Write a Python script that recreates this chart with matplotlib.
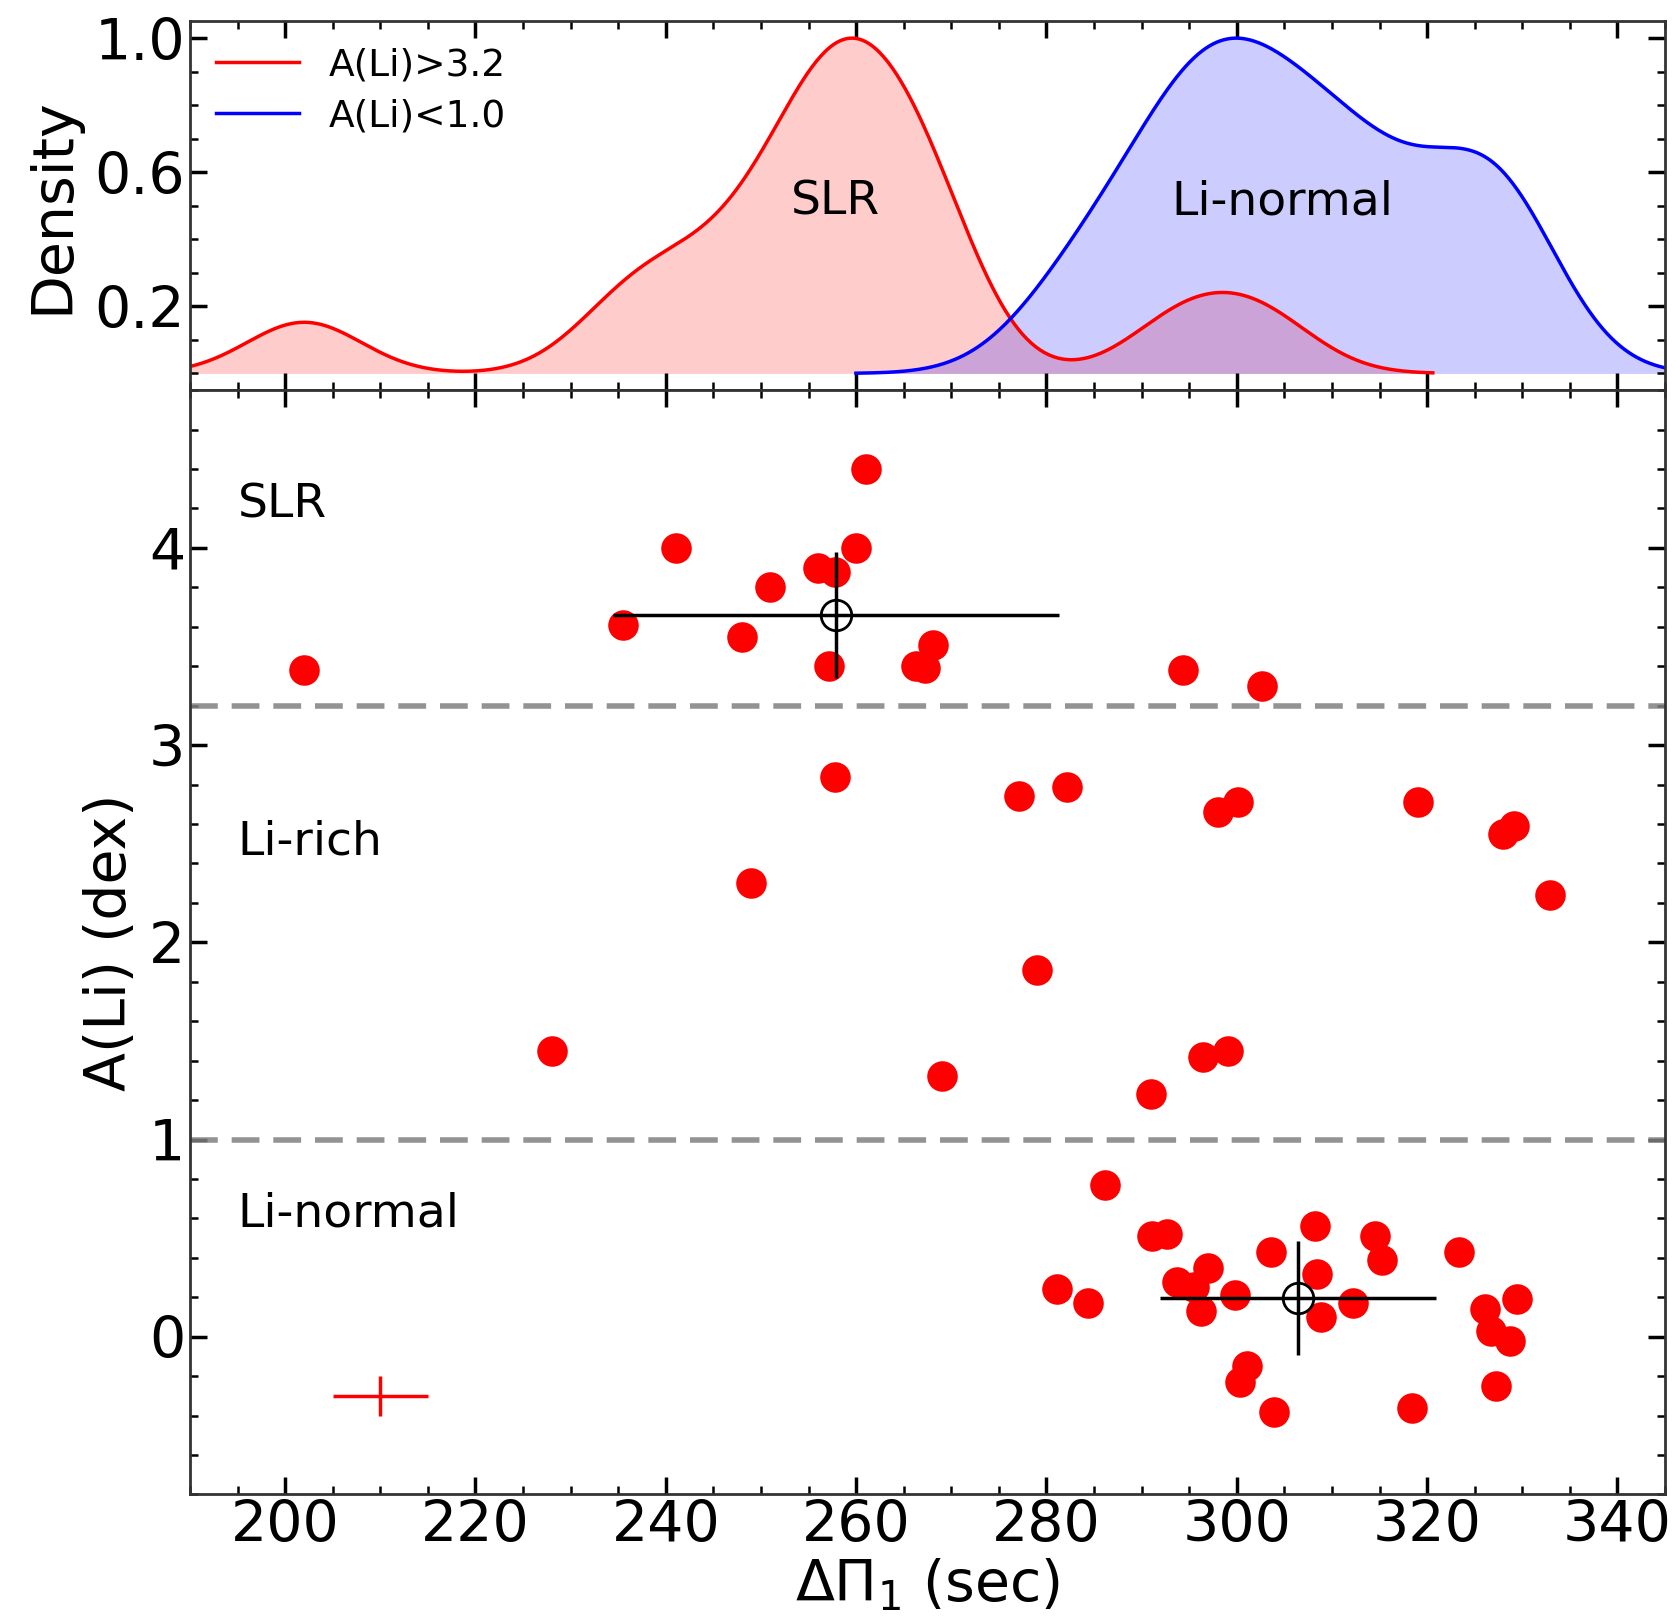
import numpy as np
import matplotlib
matplotlib.use("Agg")
import matplotlib.pyplot as plt
from matplotlib.ticker import MultipleLocator, FixedLocator

# A(Li) > 3.2 (SLR)
slr_x = [202.0, 235.5, 241.1, 248.0, 251.0, 256.0, 257.8, 260.0, 261.0, 257.2,
         266.3, 267.2, 268.1, 294.4, 302.6]
slr_y = [3.38, 3.61, 4.00, 3.55, 3.80, 3.90, 3.88, 4.00, 4.40, 3.40,
         3.40, 3.39, 3.51, 3.38, 3.30]

# 1.0 < A(Li) < 3.2 (Li-rich)
rich_x = [257.8, 249.0, 228.0, 269.0, 277.1, 282.2, 279.0, 291.0, 296.4, 299.1,
          298.0, 300.1, 319.0, 328.0, 329.1, 332.9]
rich_y = [2.84, 2.30, 1.45, 1.32, 2.74, 2.79, 1.86, 1.23, 1.42, 1.45,
          2.66, 2.71, 2.71, 2.55, 2.59, 2.24]

# A(Li) < 1.0 (Li-normal)
norm_x = [286.1, 281.1, 284.4, 291.1, 292.7, 293.7, 297.0, 295.5, 296.2, 299.8,
          303.6, 308.2, 308.4, 308.9, 312.2, 314.5, 315.3, 323.3, 326.1, 326.7,
          328.7, 329.4, 327.2, 301.1, 300.3, 303.9, 318.4]
norm_y = [0.77, 0.24, 0.17, 0.51, 0.52, 0.28, 0.35, 0.25, 0.13, 0.21,
          0.43, 0.56, 0.32, 0.10, 0.17, 0.51, 0.39, 0.43, 0.14, 0.03,
          -0.02, 0.19, -0.25, -0.15, -0.23, -0.38, -0.36]

# typical error
err_x, err_y = 210.0, -0.30
err_dx, err_dy = 5.0, 0.10

# kde bandwidths (sec) and cut (in bandwidths)
bw_slr, cut_slr = 6.0, 3.0
bw_norm, cut_norm = 6.6, 3.2


def kde(data, bw, cut=3):
    d = np.asarray(data)
    grid = np.linspace(d.min() - cut * bw, d.max() + cut * bw, 600)
    dens = np.exp(-0.5 * ((grid[:, None] - d[None, :]) / bw) ** 2).sum(axis=1)
    return grid, dens / dens.max()


W, H = 1676, 1619
fig = plt.figure(figsize=(W / 100, H / 100), dpi=100)
left, right = 190 / W, 1665 / W
ax1 = fig.add_axes([left, 0.759, right - left, 0.9868 - 0.759])
ax2 = fig.add_axes([left, 0.0769, right - left, 0.759 - 0.0769])

def style(ax):
    ax.tick_params(which='both', direction='in', top=True, right=True)
    ax.tick_params(which='major', length=12, width=2.5, labelsize=41)
    ax.tick_params(which='minor', length=6, width=1.8)
    for s in ax.spines.values():
        s.set_linewidth(2)
        s.set_color('#333333')

# top: densities
gx, gy = kde(slr_x, bw_slr, cut_slr)
ax1.plot(gx, gy, color='red', lw=2.5, label='A(Li)>3.2')
ax1.fill_between(gx, 0, gy, color='red', alpha=0.2, lw=0)
bx, by = kde(norm_x, bw_norm, cut_norm)
ax1.plot(bx, by, color='blue', lw=2.5, label='A(Li)<1.0')
ax1.fill_between(bx, 0, by, color='blue', alpha=0.2, lw=0)
ax1.text(257.8, 0.51, 'SLR', fontsize=34, ha='center', va='center')
ax1.text(304.8, 0.51, 'Li-normal', fontsize=34, ha='center', va='center')
ax1.set_xlim(190, 345)
ax1.set_ylim(-0.05, 1.05)
ax1.yaxis.set_major_locator(FixedLocator([0.2, 0.6, 1.0]))
ax1.yaxis.set_minor_locator(MultipleLocator(0.1))
ax1.xaxis.set_major_locator(MultipleLocator(20))
ax1.xaxis.set_minor_locator(MultipleLocator(5))
ax1.set_ylabel('Density', fontsize=41, labelpad=10)
style(ax1)
ax1.tick_params(axis='x', labelbottom=False)
ax1.legend(loc='upper left', frameon=False, fontsize=27, handlelength=2.2,
           borderaxespad=0.3, labelspacing=0.4)

# bottom: A(Li) vs period spacing
ax2.axhline(3.2, color='gray', ls=(0, (5, 2.5)), lw=4, alpha=0.85)
ax2.axhline(1.0, color='gray', ls=(0, (5, 2.5)), lw=4, alpha=0.85)
all_x = slr_x + rich_x + norm_x
all_y = slr_y + rich_y + norm_y
ax2.plot(all_x, all_y, 'o', color='red', ms=22, mec='none')

for gxs, gys in [(slr_x, slr_y), (norm_x, norm_y)]:
    mx, my = np.mean(gxs), np.mean(gys)
    sx, sy = np.std(gxs, ddof=1), np.std(gys, ddof=1)
    ax2.errorbar(mx, my, xerr=sx, yerr=sy, fmt='o', mfc='none', mec='black',
                 ms=22, mew=2, ecolor='black', elinewidth=2.5, capsize=0, zorder=5)

ax2.errorbar(err_x, err_y, xerr=err_dx, yerr=err_dy, fmt='none', ecolor='red',
             elinewidth=2.5, capsize=0)

ax2.text(195, 4.22, 'SLR', fontsize=34, va='center')
ax2.text(195, 2.51, 'Li-rich', fontsize=34, va='center')
ax2.text(195, 0.62, 'Li-normal', fontsize=34, va='center')

ax2.set_xlim(190, 345)
ax2.set_ylim(-0.8, 4.8)
ax2.xaxis.set_major_locator(MultipleLocator(20))
ax2.xaxis.set_minor_locator(MultipleLocator(5))
ax2.yaxis.set_major_locator(MultipleLocator(1))
ax2.yaxis.set_minor_locator(MultipleLocator(0.2))
ax2.set_xlabel(r'$\Delta\Pi_1$ (sec)', fontsize=41, labelpad=2)
ax2.set_ylabel('A(Li) (dex)', fontsize=41, labelpad=8)
style(ax2)

fig.savefig('out.png', dpi=100)
